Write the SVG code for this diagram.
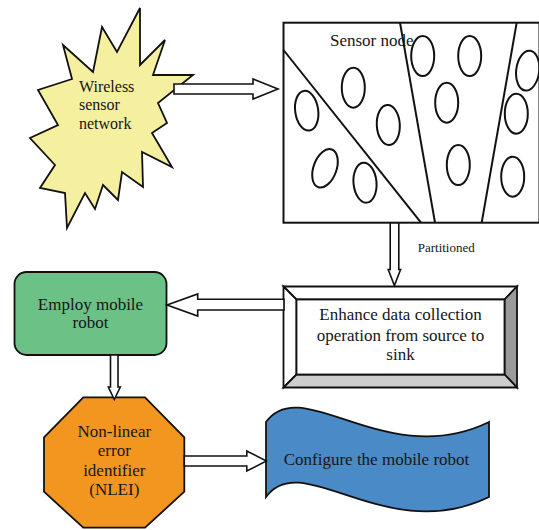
<svg xmlns="http://www.w3.org/2000/svg" width="539" height="530" viewBox="0 0 539 530">
  <style>
    text { font-family: "Liberation Serif", "Times New Roman", serif; fill: #161616; }
    .t17 { font-size: 17px; }
    .t16 { font-size: 16px; }
    .mid { text-anchor: middle; }
    .shape { stroke: #111; stroke-width: 1.8; stroke-linejoin: miter; }
    .arrow { fill: #fff; stroke: #111; stroke-width: 1.6; stroke-linejoin: miter; }
    .node { fill: none; stroke: #111; stroke-width: 2; }
  </style>
  <rect width="539" height="530" fill="#fff"/>

  <g id="wsn">
    <polygon class="shape" fill="#f4f0a0" points="140,8 140,65 165,40 153,75 193,75 158,103 167,123 152,133 172,167 142,152 143,187 122,172 118,200 103,185 95,209 85,193 67,228 65,193 40,188 55,165 30,138 58,125 38,90 72,79 63,45 93,72 102,27 117,52"/>
    <text class="t16" x="79" y="91.5">Wireless</text>
    <text class="t16" x="79" y="110">sensor</text>
    <text class="t16" x="79" y="128.5">network</text>
  </g>

  <g id="sensor-field">
    <rect x="283.5" y="22.7" width="256" height="200" fill="#fff" stroke="#111" stroke-width="2"/>
    <line x1="283.5" y1="50" x2="421" y2="222.7" stroke="#111" stroke-width="2"/>
    <line x1="400" y1="22.7" x2="435" y2="222.7" stroke="#111" stroke-width="2"/>
    <line x1="516.7" y1="22.7" x2="481.7" y2="222.7" stroke="#111" stroke-width="2"/>
    <g class="node">
      <ellipse cx="306.7" cy="110.7" rx="11.5" ry="20" transform="rotate(-8 306.7 110.7)"/>
      <ellipse cx="353.3" cy="87.7" rx="11.5" ry="20"/>
      <ellipse cx="388.3" cy="125" rx="11.5" ry="20" transform="rotate(-3 388.3 125)"/>
      <ellipse cx="325" cy="168.3" rx="11.5" ry="20" transform="rotate(20 325 168.3)"/>
      <ellipse cx="365" cy="182.7" rx="11.5" ry="20" transform="rotate(-5 365 182.7)"/>
      <ellipse cx="422.7" cy="56" rx="11.5" ry="20"/>
      <ellipse cx="469.7" cy="56" rx="11.5" ry="20"/>
      <ellipse cx="446.7" cy="102.7" rx="11.5" ry="20"/>
      <ellipse cx="458.3" cy="165" rx="11.5" ry="20"/>
      <ellipse cx="527.7" cy="70.7" rx="11.5" ry="20" transform="rotate(7 527.7 70.7)"/>
      <ellipse cx="516.3" cy="113.7" rx="11.5" ry="20"/>
      <ellipse cx="512.7" cy="176.7" rx="11.5" ry="20"/>
    </g>
    <text class="t17" x="330" y="46">Sensor node</text>
  </g>

  <g id="enhance">
    <polygon class="shape" fill="#fff" points="283.5,286.5 517,286.5 504.5,299.5 296.5,299.5"/>
    <polygon class="shape" fill="#fff" points="283.5,286.5 296.5,299.5 296.5,374.5 283.5,387.5"/>
    <polygon class="shape" fill="#9a9a9a" points="517,286.5 517,387.5 504.5,374.5 504.5,299.5"/>
    <polygon class="shape" fill="#cdcdcd" points="283.5,387.5 517,387.5 504.5,374.5 296.5,374.5"/>
    <rect class="shape" fill="#fff" x="296.5" y="299.5" width="208" height="75"/>
    <text class="t17 mid" x="400.5" y="320">Enhance data collection</text>
    <text class="t17 mid" x="400.5" y="340.5">operation from source to</text>
    <text class="t17 mid" x="400.5" y="360">sink</text>
  </g>

  <g id="employ">
    <rect class="shape" fill="#6cc286" x="14.5" y="272" width="152" height="83" rx="12" ry="12"/>
    <text class="t17 mid" x="90.5" y="309.5">Employ mobile</text>
    <text class="t17 mid" x="90.5" y="328">robot</text>
  </g>

  <g id="nlei">
    <polygon class="shape" fill="#f3961f" points="83.3,397.3 145,397.3 184.3,437.3 184.3,491.7 145,527.7 83.3,527.7 44,491.7 44,437.3"/>
    <text class="t17 mid" x="114.3" y="436.5">Non-linear</text>
    <text class="t17 mid" x="114.3" y="456">error</text>
    <text class="t17 mid" x="114.3" y="475.5">identifier</text>
    <text class="t17 mid" x="114.3" y="495">(NLEI)</text>
  </g>

  <g id="configure">
    <path class="shape" fill="#4a8ac7" d="M266,422 C302,372 386,472 489,422 L489,497 C386,547 302,447 266,497 Z"/>
    <text class="t17 mid" x="376.5" y="465">Configure the mobile robot</text>
  </g>

  <g id="connectors">
    <polygon class="arrow" points="174,84 253,84 253,79 278,89 253,99 253,94 174,94"/>
    <polygon class="arrow" points="390.2,223 398.8,223 398.8,269.5 400.6,269.5 394.4,285.5 388.2,269.5 390.2,269.5"/>
    <polygon class="arrow" points="284,299.3 197.7,299.3 197.7,294 167,305 197.7,316 197.7,310 284,310"/>
    <polygon class="arrow" points="110.5,355 118,355 118,387 120.3,387 114.3,399.5 108.3,387 110.5,387"/>
    <polygon class="arrow" points="184.3,456 246.8,456 246.8,451 266.4,461 246.8,471 246.8,466 184.3,466"/>
    <text x="417.7" y="252" style="font-size:13px">Partitioned</text>
  </g>
</svg>
